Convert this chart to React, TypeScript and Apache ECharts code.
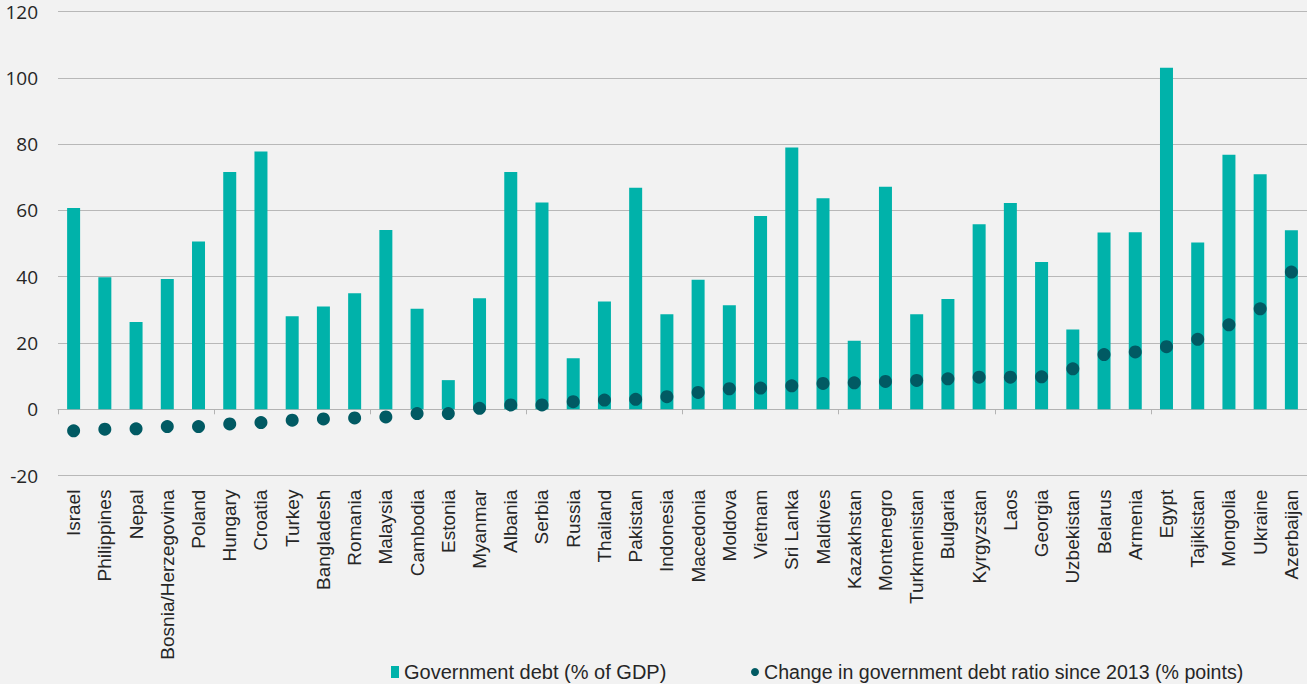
import React, { useEffect, useRef } from "react";
import * as echarts from "echarts";

const categories = [
  "Israel", "Philippines", "Nepal", "Bosnia/Herzegovina", "Poland", "Hungary", "Croatia",
  "Turkey", "Bangladesh", "Romania", "Malaysia", "Cambodia", "Estonia", "Myanmar",
  "Albania", "Serbia", "Russia", "Thailand", "Pakistan", "Indonesia", "Macedonia",
  "Moldova", "Vietnam", "Sri Lanka", "Maldives", "Kazakhstan", "Montenegro",
  "Turkmenistan", "Bulgaria", "Kyrgyzstan", "Laos", "Georgia", "Uzbekistan",
  "Belarus", "Armenia", "Egypt", "Tajikistan", "Mongolia", "Ukraine", "Azerbaijan",
];

const debtValues = [
  60.7, 39.8, 26.3, 39.3, 50.6, 71.6, 77.8, 28.1, 31.0, 35.0, 54.1, 30.3, 8.8, 33.5,
  71.6, 62.4, 15.4, 32.5, 66.8, 28.7, 39.1, 31.4, 58.3, 79.0, 63.7, 20.7, 67.1,
  28.7, 33.3, 55.8, 62.2, 44.4, 24.1, 53.3, 53.4, 103.0, 50.3, 76.8, 70.9, 54.0,
];

const changeValues = [
  -6.5, -6.0, -5.9, -5.2, -5.2, -4.4, -4.0, -3.3, -2.9, -2.6, -2.3, -1.3, -1.3, 0.3,
  1.3, 1.3, 2.3, 2.8, 3.0, 3.8, 5.1, 6.2, 6.4, 7.1, 7.8, 8.0, 8.4,
  8.7, 9.2, 9.7, 9.7, 9.8, 12.2, 16.5, 17.3, 18.9, 21.1, 25.5, 30.3, 41.4,
];

const debtName = "Government debt (% of GDP)";
const changeName = "Change in government debt ratio since 2013 (% points)";

export default function App() {
  const ref = useRef<HTMLDivElement>(null);
  useEffect(() => {
    if (!ref.current) return;
    const chart = echarts.init(ref.current, null, { renderer: "svg" });
    const labelFont = "Liberation Sans";
    chart.setOption({
      animation: false,
      backgroundColor: "#f2f2f2",
      grid: { left: 58, right: 0, top: 11.5, bottom: 208.4, containLabel: false },
      legend: [
        {
          data: [debtName],
          left: 386,
          top: 657,
          itemWidth: 8,
          itemHeight: 12,
          itemGap: 4,
          icon: "rect",
          textStyle: { fontFamily: labelFont, fontSize: 20, color: "#262626" },
        },
        {
          data: [changeName],
          left: 746,
          top: 657,
          itemWidth: 8,
          itemHeight: 12,
          icon: "circle",
          textStyle: { fontFamily: labelFont, fontSize: 19.6, color: "#262626" },
        },
      ],
      xAxis: [
        {
          type: "category",
          data: categories,
          position: "bottom",
          axisLine: { show: false, onZero: false },
          axisTick: { show: false },
          axisLabel: {
            rotate: 90,
            interval: 0,
            margin: 14,
            fontFamily: labelFont,
            fontSize: 19,
            color: "#262626",
          },
        },
        {
          type: "category",
          data: categories,
          position: "bottom",
          axisLine: { show: true, onZero: true, lineStyle: { color: "#b3b3b3", width: 1 } },
          axisTick: { show: true, length: 5, lineStyle: { color: "#b3b3b3" } },
          axisLabel: { show: false },
        },
      ],
      yAxis: {
        type: "value",
        min: -20,
        max: 120,
        interval: 20,
        axisLine: { show: false },
        axisTick: { show: false },
        axisLabel: { fontFamily: "Open Sans", fontSize: 19, color: "#262626", margin: 20 },
        splitLine: { lineStyle: { color: "#b8b8b8", width: 1 } },
      },
      series: [
        {
          name: debtName,
          type: "bar",
          xAxisIndex: 0,
          data: debtValues,
          barWidth: 13,
          itemStyle: { color: "#00b2aa" },
        },
        {
          name: changeName,
          type: "scatter",
          xAxisIndex: 0,
          data: changeValues,
          symbol: "circle",
          symbolSize: 13,
          itemStyle: { color: "#015a63", opacity: 1 },
          z: 5,
        },
      ],
    });
    return () => chart.dispose();
  }, []);
  return <div ref={ref} style={{ width: 1307, height: 684, position: "absolute", left: 0, top: 0 }} />;
}
